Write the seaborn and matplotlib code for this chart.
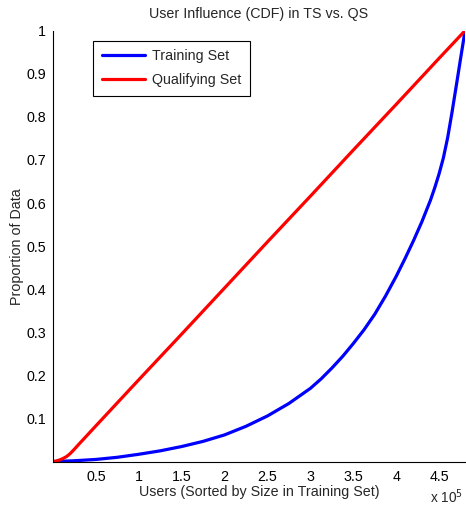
import matplotlib
matplotlib.use("Agg")
import matplotlib.pyplot as plt
import seaborn as sns
import pandas as pd
from matplotlib.ticker import FixedLocator, FixedFormatter

# ---- data (x in users in units of 1e5) ----
train_x_e5 = [0, 0.25, 0.5, 0.75, 1.0, 1.25, 1.5, 1.75, 2.0, 2.25, 2.5, 2.75, 3.0,
              3.125, 3.25, 3.375, 3.5, 3.625, 3.75, 3.875, 4.0, 4.1, 4.2, 4.3,
              4.4, 4.45, 4.5, 4.55, 4.6, 4.65, 4.7, 4.72, 4.75, 4.78, 4.80189]
train_y = [0, 0.002, 0.005, 0.010, 0.017, 0.025, 0.035, 0.047, 0.062, 0.082, 0.106,
           0.135, 0.170, 0.192, 0.217, 0.244, 0.274, 0.306, 0.342, 0.384, 0.430,
           0.470, 0.512, 0.557, 0.607, 0.636, 0.668, 0.705, 0.752, 0.810, 0.872,
           0.897, 0.935, 0.972, 1.0]

qual_x_e5 = [0, 0.04, 0.08, 0.12, 0.16, 0.2, 0.25, 0.3, 0.5, 1.0, 1.5, 2.0, 2.5,
             3.0, 3.5, 4.0, 4.5, 4.80189]
qual_y = [0, 0.0015, 0.004, 0.0075, 0.012, 0.0185, 0.029, 0.040, 0.083, 0.190,
          0.296, 0.403, 0.510, 0.616, 0.723, 0.829, 0.936, 1.0]

x_ticks = [0.5, 1, 1.5, 2, 2.5, 3, 3.5, 4, 4.5]
x_tick_labels = ["0.5", "1", "1.5", "2", "2.5", "3", "3.5", "4", "4.5"]
y_ticks = [0.1, 0.2, 0.3, 0.4, 0.5, 0.6, 0.7, 0.8, 0.9, 1.0]
y_tick_labels = ["0.1", "0.2", "0.3", "0.4", "0.5", "0.6", "0.7", "0.8", "0.9", "1"]

title = "User Influence (CDF) in TS vs. QS"
xlabel = "Users (Sorted by Size in Training Set)"
ylabel = "Proportion of Data"
series_names = ["Training Set", "Qualifying Set"]
n_users = 480189

train = pd.DataFrame({"users": [v * 1e5 for v in train_x_e5], "prop": train_y})
qual = pd.DataFrame({"users": [v * 1e5 for v in qual_x_e5], "prop": qual_y})

sns.set_style("white")
plt.rcParams["font.family"] = ["Liberation Sans", "DejaVu Sans"]

FS = 10.3
fig = plt.figure(figsize=(4.66, 5.07), dpi=100)
ax = fig.add_axes([53 / 466, 45.4 / 507, 412 / 466, 430.9 / 507])

sns.lineplot(data=train, x="users", y="prop", ax=ax, color="#0000ff", lw=2.3,
             label=series_names[0], sort=False, solid_joinstyle="round")
sns.lineplot(data=qual, x="users", y="prop", ax=ax, color="#ff0000", lw=2.3,
             label=series_names[1], sort=False, solid_joinstyle="round")

ax.set_xlim(0, n_users)
ax.set_ylim(0, 1)
ax.xaxis.set_major_locator(FixedLocator([t * 1e5 for t in x_ticks]))
ax.xaxis.set_major_formatter(FixedFormatter(x_tick_labels))
ax.yaxis.set_major_locator(FixedLocator(y_ticks))
ax.yaxis.set_major_formatter(FixedFormatter(y_tick_labels))

ax.tick_params(direction="in", length=4, width=0.8, color="black",
               labelsize=FS, labelcolor="black", pad=6)
ax.tick_params(axis="y", pad=5)
for s in ["top", "right"]:
    ax.spines[s].set_visible(False)
for s in ["left", "bottom"]:
    ax.spines[s].set_color("black")
    ax.spines[s].set_linewidth(0.8)

ax.set_title(title, fontsize=FS, pad=9)
ax.set_xlabel(xlabel, fontsize=FS, labelpad=1)
ax.set_ylabel(ylabel, fontsize=FS, labelpad=2)

fig.text(463.5 / 466, 1 - 497 / 507, "x 10$^5$", fontsize=9.8, va="center", ha="right")

leg = ax.legend(loc="upper left", bbox_to_anchor=(40 / 412, 1 - 10 / 431),
                fontsize=FS, frameon=True, fancybox=False, handlelength=3.0,
                borderpad=0.6, labelspacing=0.7, handletextpad=0.55,
                borderaxespad=0)
leg.get_frame().set_edgecolor("black")
leg.get_frame().set_linewidth(0.8)
leg.get_frame().set_alpha(1)

fig.savefig("out.png", dpi=100)
